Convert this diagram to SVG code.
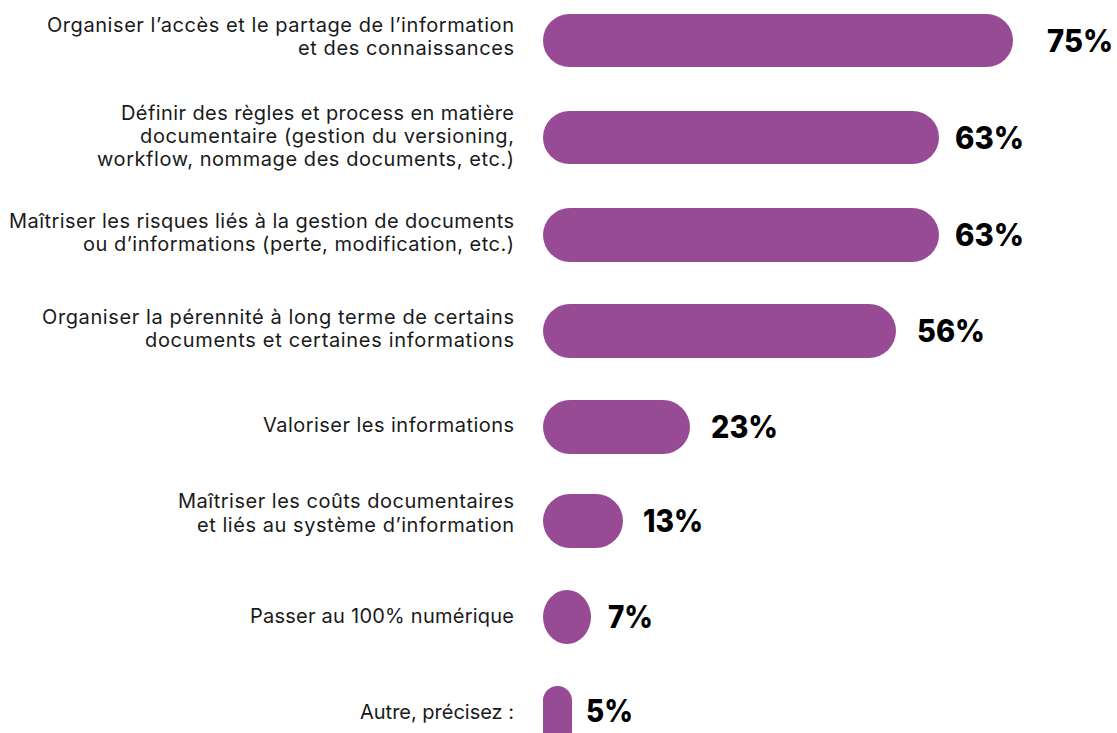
<svg xmlns="http://www.w3.org/2000/svg" width="1117" height="733" viewBox="0 0 1117 733">
<style>
.bar{fill:#974B94}
.lbl{font-family:Inter,"Noto Sans",sans-serif;font-size:20px;fill:#1a1a1a;text-anchor:end}
.pct{font-family:Inter,"Noto Sans",sans-serif;font-size:31px;font-weight:800;fill:#000}
</style>
<rect width="1117" height="733" fill="#fff"/>
<g id="row1">
<rect class="bar" x="543" y="14" width="470" height="53" rx="26.5"/>
<text class="lbl" x="514" y="32" textLength="467">Organiser l’accès et le partage de l’information</text>
<text class="lbl" x="514" y="55" textLength="216">et des connaissances</text>
<text class="pct" x="1047" y="52" textLength="66" lengthAdjust="spacingAndGlyphs">75%</text>
</g>
<g id="row2">
<rect class="bar" x="543" y="111" width="396" height="53" rx="26.5"/>
<text class="lbl" x="514" y="120" textLength="393">Définir des règles et process en matière</text>
<text class="lbl" x="514" y="143" textLength="374">documentaire (gestion du versioning,</text>
<text class="lbl" x="514" y="166" textLength="417">workflow, nommage des documents, etc.)</text>
<text class="pct" x="955" y="149" textLength="69" lengthAdjust="spacingAndGlyphs">63%</text>
</g>
<g id="row3">
<rect class="bar" x="543" y="208" width="396" height="54" rx="27"/>
<text class="lbl" x="514" y="228" textLength="505">Maîtriser les risques liés à la gestion de documents</text>
<text class="lbl" x="514" y="251" textLength="431">ou d’informations (perte, modification, etc.)</text>
<text class="pct" x="955" y="246" textLength="69" lengthAdjust="spacingAndGlyphs">63%</text>
</g>
<g id="row4">
<rect class="bar" x="543" y="304" width="353" height="54" rx="27"/>
<text class="lbl" x="514" y="324" textLength="472">Organiser la pérennité à long terme de certains</text>
<text class="lbl" x="514" y="347" textLength="369">documents et certaines informations</text>
<text class="pct" x="917" y="342" textLength="68" lengthAdjust="spacingAndGlyphs">56%</text>
</g>
<g id="row5">
<rect class="bar" x="543" y="400" width="147" height="54" rx="27"/>
<text class="lbl" x="514" y="432" textLength="251">Valoriser les informations</text>
<text class="pct" x="711" y="438" textLength="67" lengthAdjust="spacingAndGlyphs">23%</text>
</g>
<g id="row6">
<rect class="bar" x="543" y="494" width="80" height="54" rx="27"/>
<text class="lbl" x="514" y="508" textLength="336">Maîtriser les coûts documentaires</text>
<text class="lbl" x="514" y="532" textLength="317">et liés au système d’information</text>
<text class="pct" x="643" y="532" textLength="60" lengthAdjust="spacingAndGlyphs">13%</text>
</g>
<g id="row7">
<rect class="bar" x="543" y="590" width="48" height="54" rx="24" ry="27"/>
<text class="lbl" x="514" y="623" textLength="264">Passer au 100% numérique</text>
<text class="pct" x="608" y="628" textLength="45" lengthAdjust="spacingAndGlyphs">7%</text>
</g>
<g id="row8">
<rect class="bar" x="543" y="686" width="29" height="60" rx="14.5"/>
<text class="lbl" x="514" y="719" textLength="154">Autre, précisez :</text>
<text class="pct" x="586" y="722" textLength="47" lengthAdjust="spacingAndGlyphs">5%</text>
</g>
</svg>
